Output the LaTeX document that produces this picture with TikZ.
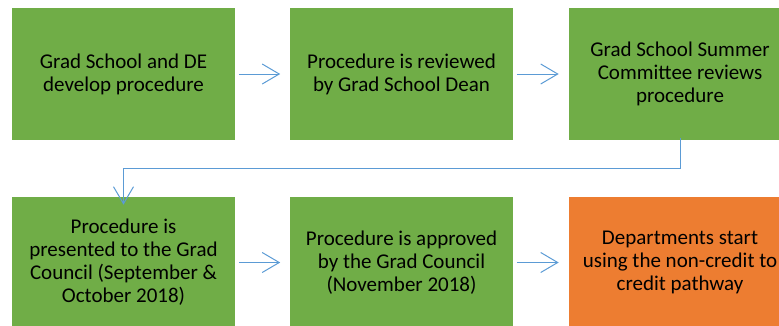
\documentclass[tikz,border=0pt]{standalone}
\usepackage{fontspec}
\setmainfont{Carlito}
\usetikzlibrary{arrows.meta}
\definecolor{boxgreen}{HTML}{70AD47}
\definecolor{boxorange}{HTML}{ED7D31}
\definecolor{arrowblue}{HTML}{5B9BD5}
\begin{document}
\begin{tikzpicture}[x=1pt,y=-1pt,
  stepbox/.style={draw=white, line width=0.6pt, minimum width=224pt, minimum height=133pt,
    inner sep=0pt, align=center, font=\fontsize{21}{23}\selectfont, text=black},
  greenbox/.style={stepbox, fill=boxgreen},
  orangebox/.style={stepbox, fill=boxorange},
  flow/.style={draw=arrowblue, line width=1pt, -{Straight Barb[length=17pt,width=20pt,line width=1pt]}}]
\useasboundingbox (0,0) rectangle (779,325);
\node[greenbox] (b1) at (123.5,74) {Grad School and DE\\develop procedure};
\node[greenbox] (b2) at (401.5,74) {Procedure is reviewed\\by Grad School Dean};
\node[greenbox] (b3) at (680,74) {Grad School Summer\\Committee reviews\\procedure};
\node[greenbox] (b4) at (123.5,262.5) {Procedure is\\presented to the Grad\\Council (September \&\\October 2018)};
\node[greenbox] (b5) at (401.5,262.5) {Procedure is approved\\by the Grad Council\\(November 2018)};
\node[orangebox] (b6) at (680,262.5) {Departments start\\using the non-credit to\\credit pathway};
\draw[flow] ([xshift=3pt]b1.east) -- ([xshift=-9pt]b2.west);
\draw[flow] ([xshift=3pt]b2.east) -- ([xshift=-9pt]b3.west);
\draw[flow] ([yshift=3pt]b3.south) |- (123.5,168) -- ([yshift=-9pt]b4.north);
\draw[flow] ([xshift=3pt]b4.east) -- ([xshift=-9pt]b5.west);
\draw[flow] ([xshift=3pt]b5.east) -- ([xshift=-9pt]b6.west);
\end{tikzpicture}
\end{document}
